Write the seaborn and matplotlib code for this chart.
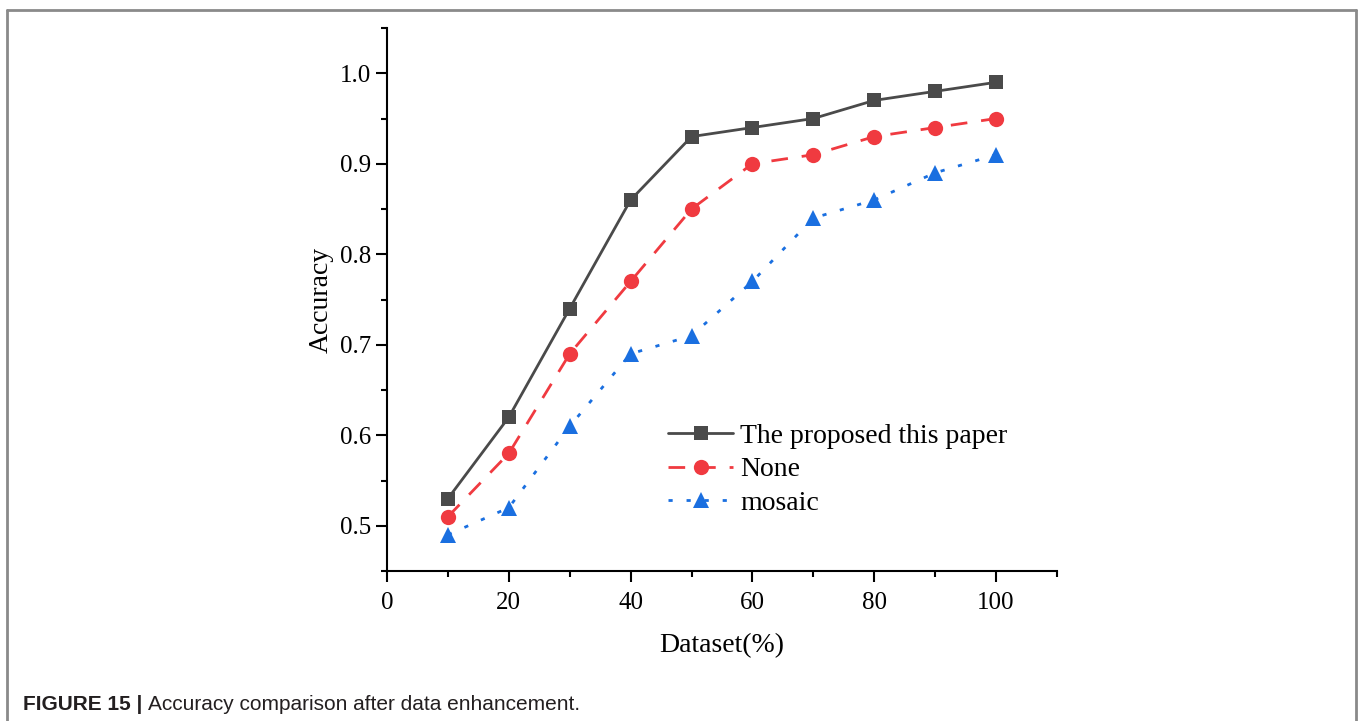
import matplotlib
matplotlib.use("Agg")
import matplotlib.pyplot as plt
import seaborn as sns
import pandas as pd
from matplotlib.lines import Line2D
from matplotlib.ticker import MultipleLocator

dataset_pct = [10, 20, 30, 40, 50, 60, 70, 80, 90, 100]
proposed = [0.53, 0.62, 0.74, 0.86, 0.93, 0.94, 0.95, 0.97, 0.98, 0.99]
none_aug = [0.51, 0.58, 0.69, 0.77, 0.85, 0.90, 0.91, 0.93, 0.94, 0.95]
mosaic = [0.49, 0.52, 0.61, 0.69, 0.71, 0.77, 0.84, 0.86, 0.89, 0.91]
series_names = ["The proposed this paper", "None", "mosaic"]

sns.set_theme(style="ticks")
plt.rcParams["font.family"] = ["Liberation Serif", "DejaVu Serif"]

fig = plt.figure(figsize=(13.6, 7.21), dpi=100)
ax = fig.add_axes([387/1360, 1-571/721, (1057-387)/1360, (571-28)/721])

styles = [
    dict(color="#4a4a4a", marker="s", linestyle="-", markersize=10),
    dict(color="#f03a40", marker="o", linestyle=(0, (6, 5)), markersize=11),
    dict(color="#1a6fe0", marker="^", linestyle=(0, (1.5, 5)), markersize=11),
]
for name, vals, st in zip(series_names, [proposed, none_aug, mosaic], styles):
    df = pd.DataFrame({"x": dataset_pct, "y": vals})
    sns.lineplot(data=df, x="x", y="y", ax=ax, label=name, color=st["color"],
                 marker=st["marker"], linestyle=st["linestyle"], linewidth=2,
                 markersize=st["markersize"], markeredgewidth=0)

ax.set_xlim(0, 110)
ax.set_ylim(0.45, 1.05)
ax.xaxis.set_major_locator(MultipleLocator(20))
ax.xaxis.set_minor_locator(MultipleLocator(10))
ax.yaxis.set_major_locator(MultipleLocator(0.1))
ax.yaxis.set_minor_locator(MultipleLocator(0.05))
ax.yaxis.set_major_formatter(matplotlib.ticker.FormatStrFormatter("%.1f"))
ax.tick_params(which="major", direction="out", length=8, width=1.5, labelsize=18,
               color="black", labelcolor="black")
ax.tick_params(axis="x", which="major", pad=7)
ax.tick_params(which="minor", direction="out", length=4, width=1.5, color="black")
for s in ["top", "right"]:
    ax.spines[s].set_visible(False)
for s in ["left", "bottom"]:
    ax.spines[s].set_linewidth(1.5)
    ax.spines[s].set_color("black")

ax.set_xlabel("Dataset(%)", fontsize=20, labelpad=14, color="black")
ax.set_ylabel("Accuracy", fontsize=20, labelpad=4, color="black")

leg = ax.legend(loc="upper left", bbox_to_anchor=((657-387)/670, (571-412)/543),
                frameon=False, fontsize=20, handlelength=2.35, handletextpad=0.25,
                labelspacing=0.3, borderaxespad=0)
for t in leg.get_texts():
    t.set_color("black")

# figure frame
frame_col = "#8a8a8a"
fig.add_artist(Line2D([7/1360, 1356/1360], [1-10/721, 1-10/721], color=frame_col, lw=2, transform=fig.transFigure))
fig.add_artist(Line2D([7/1360, 7/1360], [1-10/721, 0], color=frame_col, lw=2, transform=fig.transFigure))
fig.add_artist(Line2D([1356/1360, 1356/1360], [1-10/721, 0], color=frame_col, lw=2, transform=fig.transFigure))

cap_font = ["Liberation Sans", "DejaVu Sans"]
t1 = fig.text(23/1360, 1-705/721, "FIGURE 15 | ", fontsize=15, fontweight="bold",
              family=cap_font, va="center", color="#231f20")
fig.canvas.draw()
bb = t1.get_window_extent(renderer=fig.canvas.get_renderer())
x2 = bb.x1 / fig.bbox.width
fig.text(x2, 1-705/721, "Accuracy comparison after data enhancement.", fontsize=15,
         family=cap_font, va="center", color="#231f20")

fig.savefig("out.png", dpi=100)
